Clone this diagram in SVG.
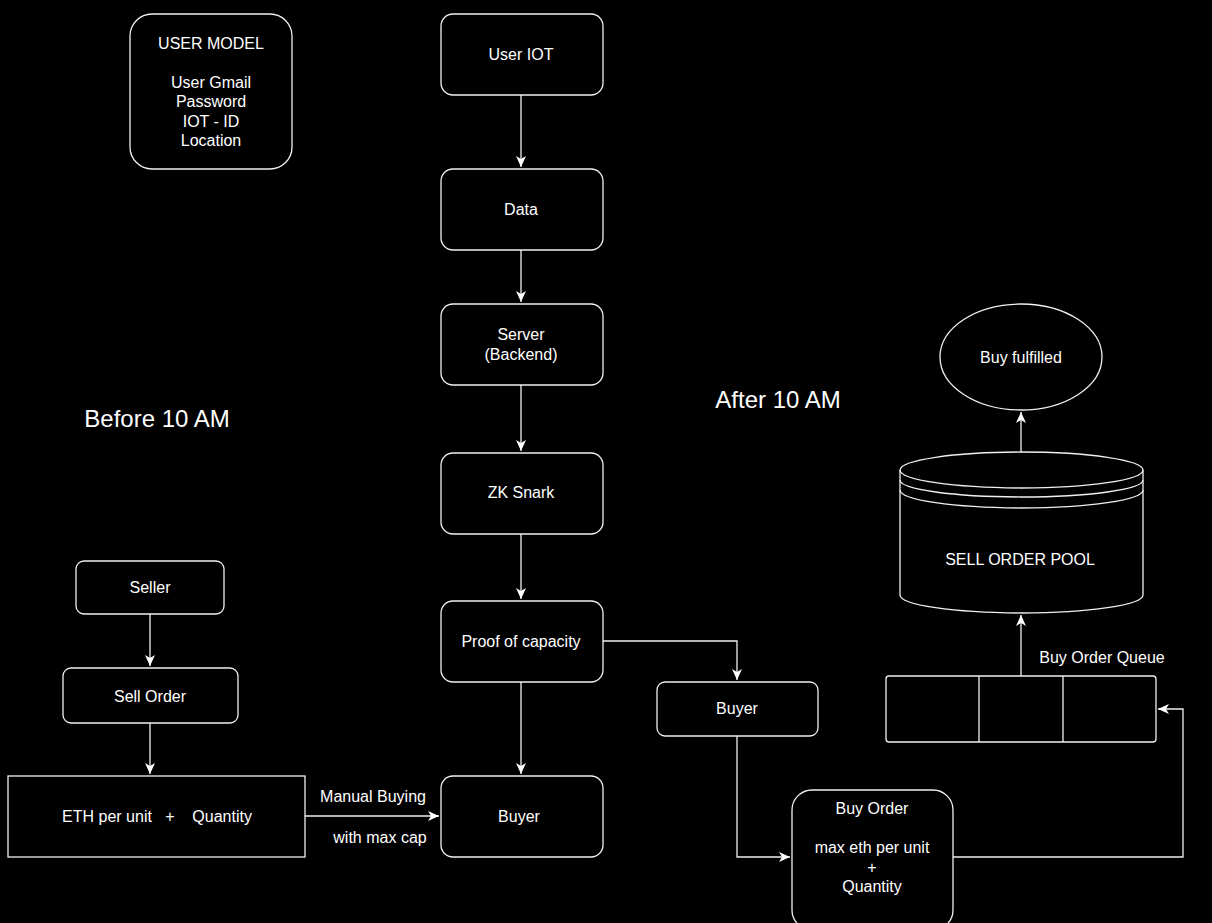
<svg xmlns="http://www.w3.org/2000/svg" width="1212" height="923" viewBox="0 0 1212 923">
<defs>
<style>
.n{fill:#000;stroke:#f0f0f0;stroke-width:1.3}
.t{fill:#fff;font-family:"Liberation Sans",Arial,sans-serif;font-size:16px;text-anchor:middle;dominant-baseline:central}
.big{font-size:24px}
.c{fill:none;stroke:#f0f0f0;stroke-width:1.3}
</style>
<marker id="a" markerWidth="12" markerHeight="12" viewBox="0 0 12 12" refX="11" refY="6" orient="auto" markerUnits="userSpaceOnUse">
<path d="M0,1 L11,6 L0,11 L3,6 z" fill="#fff"/>
</marker>
</defs>
<rect width="1212" height="923" fill="#000"/>
<g id="connectors">
<path class="c" d="M521,95 V167" marker-end="url(#a)"/>
<path class="c" d="M521,250 V302" marker-end="url(#a)"/>
<path class="c" d="M521,385 V451" marker-end="url(#a)"/>
<path class="c" d="M521,534 V599" marker-end="url(#a)"/>
<path class="c" d="M521,682 V774" marker-end="url(#a)"/>
<path class="c" d="M603,641 H737 V680" marker-end="url(#a)"/>
<path class="c" d="M150,614 V666" marker-end="url(#a)"/>
<path class="c" d="M150,723 V774" marker-end="url(#a)"/>
<path class="c" d="M305,816 H439" marker-end="url(#a)"/>
<path class="c" d="M737,736 V857 H790" marker-end="url(#a)"/>
<path class="c" d="M953,857 H1183 V709 H1158" marker-end="url(#a)"/>
<path class="c" d="M1021,676 V615" marker-end="url(#a)"/>
<path class="c" d="M1021,452 V412" marker-end="url(#a)"/>
<text class="t" x="373" y="796">Manual Buying</text>
<text class="t" x="380" y="837">with max cap</text>
</g>
<g id="user-model">
<rect class="n" x="130" y="14" width="162" height="155" rx="22"/>
<text class="t" x="211" y="43">USER MODEL</text>
<text class="t" x="211" y="82">User Gmail</text>
<text class="t" x="211" y="101">Password</text>
<text class="t" x="211" y="121">IOT - ID</text>
<text class="t" x="211" y="140">Location</text>
</g>
<g id="user-iot"><rect class="n" x="441" y="14" width="162" height="81" rx="12"/><text class="t" x="521" y="54">User IOT</text></g>
<g id="data"><rect class="n" x="441" y="169" width="162" height="81" rx="12"/><text class="t" x="521" y="209">Data</text></g>
<g id="server"><rect class="n" x="441" y="304" width="162" height="81" rx="12"/><text class="t" x="521" y="334">Server</text><text class="t" x="521" y="354">(Backend)</text></g>
<g id="zk"><rect class="n" x="441" y="453" width="162" height="81" rx="12"/><text class="t" x="521" y="492">ZK Snark</text></g>
<g id="proof"><rect class="n" x="441" y="601" width="162" height="81" rx="12"/><text class="t" x="521" y="641">Proof of capacity</text></g>
<g id="buyer-manual"><rect class="n" x="441" y="776" width="162" height="81" rx="12"/><text class="t" x="519" y="816">Buyer</text></g>
<g id="seller"><rect class="n" x="76" y="561" width="148" height="53" rx="8"/><text class="t" x="150" y="587">Seller</text></g>
<g id="sell-order"><rect class="n" x="63" y="668" width="175" height="55" rx="8"/><text class="t" x="150" y="696">Sell Order</text></g>
<g id="eth"><rect class="n" x="8" y="776" width="297" height="81"/><text class="t" x="157" y="816" xml:space="preserve">ETH per unit   +    Quantity</text></g>
<g id="buyer-auto"><rect class="n" x="657" y="682" width="161" height="54" rx="8"/><text class="t" x="737" y="708">Buyer</text></g>
<g id="buy-order"><rect class="n" x="792" y="790" width="161" height="140" rx="20"/>
<text class="t" x="872" y="808">Buy Order</text>
<text class="t" x="872" y="847">max eth per unit</text>
<text class="t" x="872" y="867">+</text>
<text class="t" x="872" y="886">Quantity</text></g>
<g id="queue">
<rect class="n" x="886" y="676" width="270" height="66" rx="3"/>
<path class="c" d="M979,676 V742 M1063,676 V742"/>
<text class="t" x="1102" y="657">Buy Order Queue</text>
</g>
<g id="pool">
<path class="n" d="M900,470 V595 A121.5,18 0 0 0 1143,595 V470 A121.5,18 0 0 0 900,470 Z"/>
<path class="c" d="M900,470 A121.5,18 0 0 0 1143,470 M900,480 A121.5,17 0 0 0 1143,480 M900,490 A121.5,18 0 0 0 1143,490"/>
<text class="t" x="1020" y="559">SELL ORDER POOL</text>
</g>
<g id="fulfilled"><ellipse class="n" cx="1021" cy="357" rx="81" ry="53"/><text class="t" x="1021" y="357">Buy fulfilled</text></g>
<text class="t big" x="157" y="418">Before 10 AM</text>
<text class="t big" x="778" y="399">After 10 AM</text>
</svg>
